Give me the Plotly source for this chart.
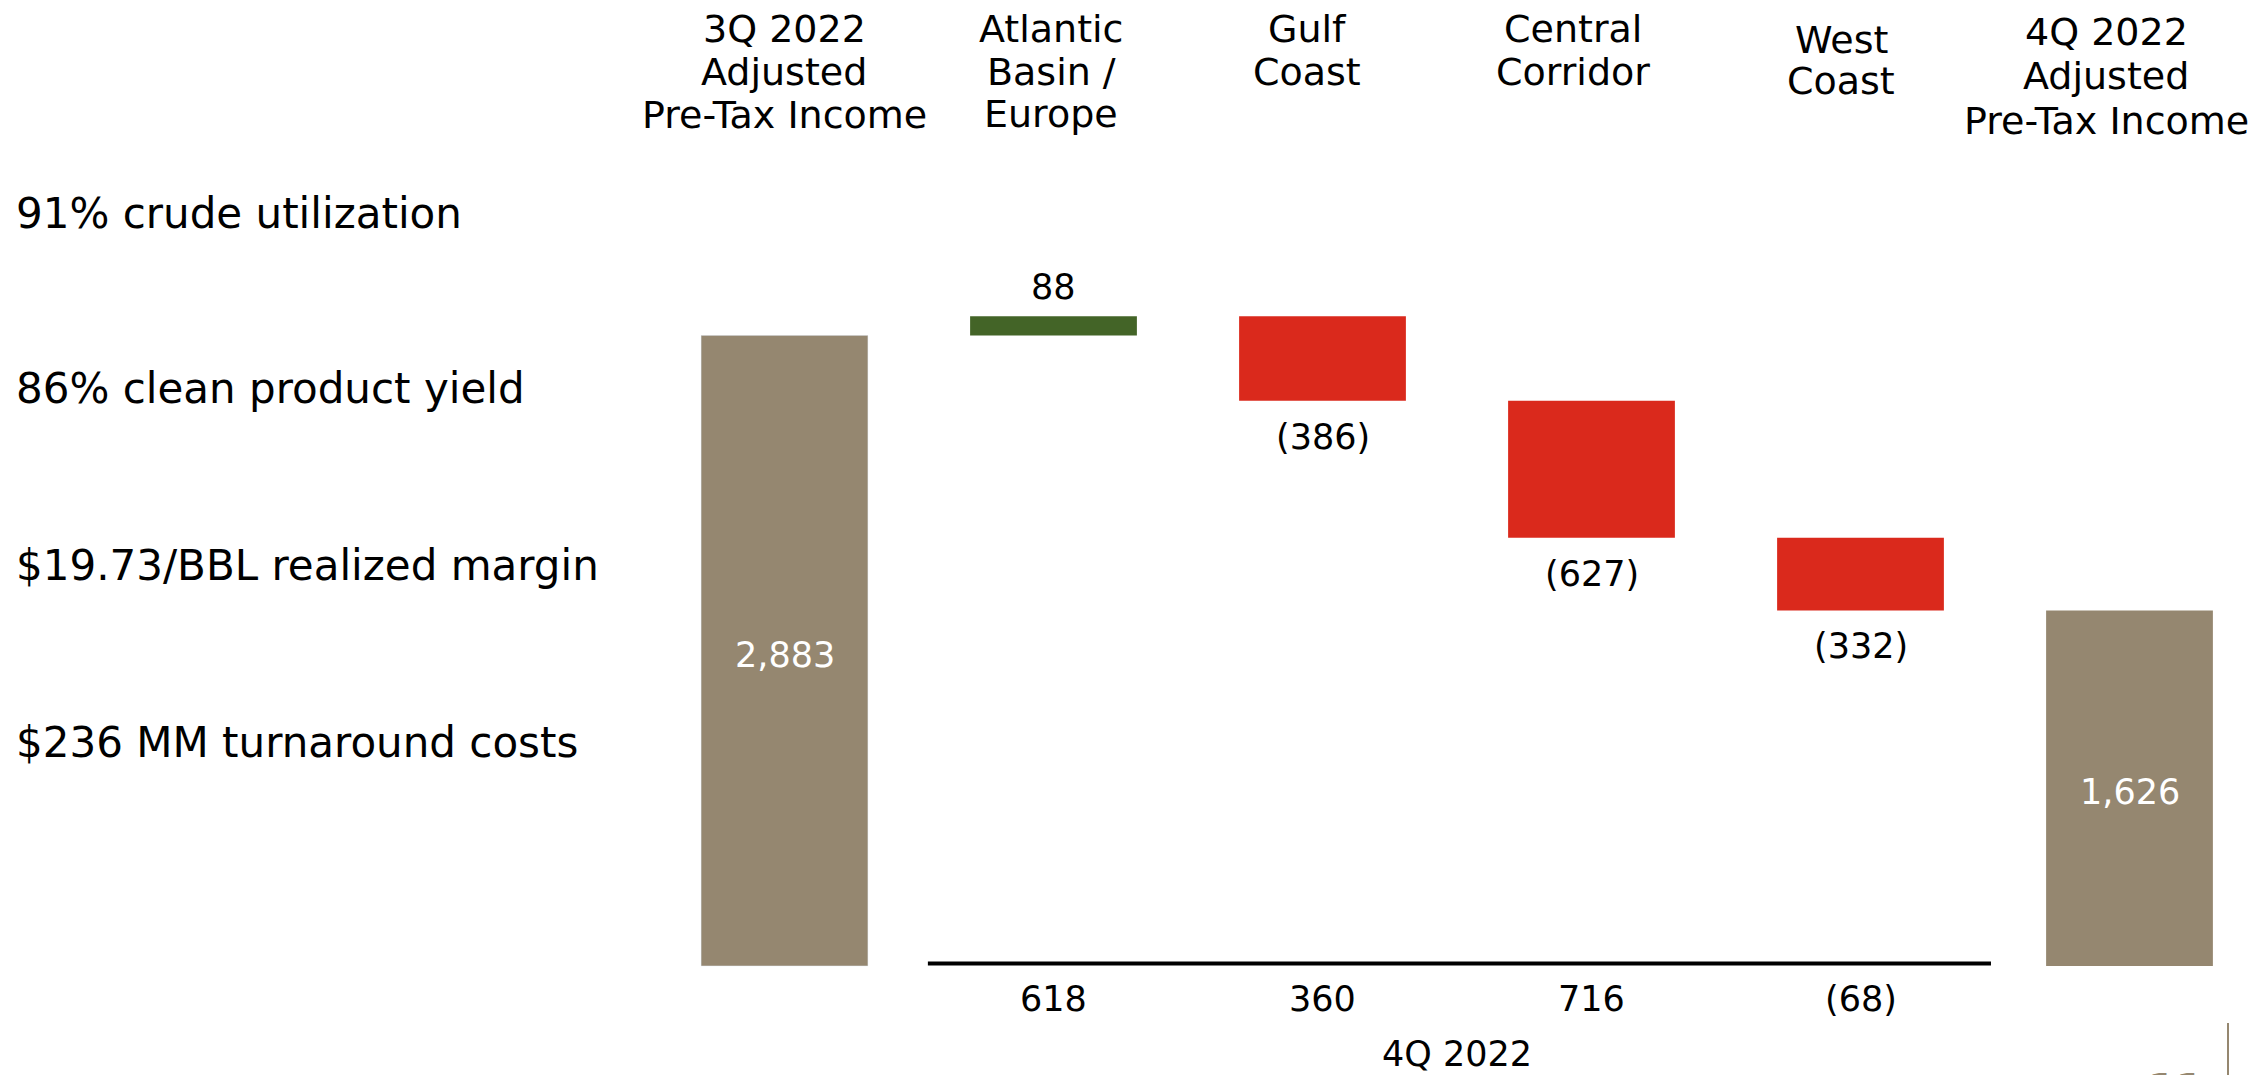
import plotly.graph_objects as go

# ---- data ----
categories = ["3Q 2022 Adjusted Pre-Tax Income", "Atlantic Basin / Europe", "Gulf Coast",
              "Central Corridor", "West Coast", "4Q 2022 Adjusted Pre-Tax Income"]
header_lines = [["3Q 2022", "Adjusted", "Pre-Tax Income"],
                ["Atlantic", "Basin /", "Europe"],
                ["Gulf", "Coast"],
                ["Central", "Corridor"],
                ["West", "Coast"],
                ["4Q 2022", "Adjusted", "Pre-Tax Income"]]
values = [2883, 88, -386, -627, -332, 1626]
measures = ["absolute", "relative", "relative", "relative", "relative", "total"]
value_labels = ["2,883", "88", "(386)", "(627)", "(332)", "1,626"]
q4_region_values = ["618", "360", "716", "(68)"]
q4_label = "4Q 2022"
notes = ["91% crude utilization", "86% clean product yield",
         "$19.73/BBL realized margin", "$236 MM turnaround costs"]
page_number = "11"

# ---- style ----
W, H = 2257, 1075
TAN = "#958770"
GREEN = "#436427"
RED = "#DA291C"
FONT = "DejaVu Sans"
px_per_unit = 0.2187
base_px = 966  # pixel row of y=0
VAL_SIZE = 35
HEAD_SIZE = 38
NOTE_SIZE = 42

fig = go.Figure(go.Waterfall(
    x=categories, y=values, measure=measures,
    width=0.62,
    increasing=dict(marker=dict(color=GREEN)),
    decreasing=dict(marker=dict(color=RED)),
    totals=dict(marker=dict(color=TAN)),
    connector=dict(visible=False),
    textinfo="none", hoverinfo="skip",
))
# opening absolute bar in tan
fig.add_trace(go.Bar(x=[categories[0]], y=[values[0]], width=0.62,
                     marker=dict(color=TAN), hoverinfo="skip"))

annotations = []
cum = 0
for i, (v, m, lab) in enumerate(zip(values, measures, value_labels)):
    if m == "absolute":
        cum = v
        annotations.append(dict(x=categories[i], y=v / 2, text=lab, showarrow=False,
                                font=dict(color="white", size=VAL_SIZE, family=FONT), yshift=-4))
    elif m == "total":
        annotations.append(dict(x=categories[i], y=cum / 2, text=lab, showarrow=False,
                                font=dict(color="white", size=VAL_SIZE, family=FONT), yshift=-4))
    else:
        cum += v
        if v >= 0:
            annotations.append(dict(x=categories[i], y=cum, text=lab, showarrow=False,
                                    font=dict(color="black", size=VAL_SIZE, family=FONT), yshift=29))
        else:
            annotations.append(dict(x=categories[i], y=cum, text=lab, showarrow=False,
                                    font=dict(color="black", size=VAL_SIZE, family=FONT), yshift=-36))

# 4Q region values under baseline
for i, lab in enumerate(q4_region_values):
    annotations.append(dict(x=categories[i + 1], y=0, text=lab, showarrow=False,
                            xanchor="center",
                            font=dict(color="black", size=VAL_SIZE, family=FONT), yshift=-33))
annotations.append(dict(x=2.5, y=0, text=q4_label, showarrow=False, xanchor="center",
                        font=dict(color="black", size=VAL_SIZE, family=FONT), yshift=-88))

# header labels (each line placed separately for tight leading)
header_x = [784, 1051, 1307, 1573, 1841, 2106]
header_y = [[29, 72, 115], [29, 72, 114], [29, 72], [29, 72], [40, 81], [32, 76, 121]]
for i, lines in enumerate(header_lines):
    for line, py in zip(lines, header_y[i]):
        annotations.append(dict(xref="paper", x=header_x[i] / W, xanchor="center",
                                yref="paper", y=1 - py / H, text=line,
                                showarrow=False, yanchor="middle",
                                font=dict(color="black", size=HEAD_SIZE, family=FONT)))

# left-hand notes
note_y = [214, 388, 565, 742]
for t, py in zip(notes, note_y):
    annotations.append(dict(xref="paper", x=14 / W, xanchor="left", yref="paper",
                            y=1 - py / H, yanchor="middle", text=t, showarrow=False,
                            font=dict(color="black", size=NOTE_SIZE, family=FONT)))

# page number
annotations.append(dict(xref="paper", x=2176 / W, xanchor="center", yref="paper",
                        y=1 - 1064 / H, yanchor="top", text="<b>" + page_number + "</b>",
                        showarrow=False, font=dict(color=TAN, size=40, family=FONT)))

shapes = [
    dict(type="line", xref="x", yref="y", x0=0.533, x1=4.485, y0=12, y1=12,
         line=dict(color="black", width=4)),
    dict(type="line", xref="paper", yref="paper", x0=2228 / W, x1=2228 / W,
         y0=0, y1=1 - 1023 / H, line=dict(color=TAN, width=2)),
]

x0 = -784.5 / 269.0
x1 = x0 + W / 269.0
y0 = -(H - base_px) / px_per_unit
y1 = y0 + H / px_per_unit

fig.update_layout(
    width=W, height=H,
    margin=dict(l=0, r=0, t=0, b=0),
    paper_bgcolor="white", plot_bgcolor="white",
    showlegend=False,
    xaxis=dict(type="category", range=[x0, x1], visible=False),
    yaxis=dict(range=[y0, y1], visible=False),
    annotations=annotations,
    shapes=shapes,
)

fig.write_html("out.html", config={"displayModeBar": False},
               post_script="document.body.style.margin='0';document.body.style.overflow='hidden';")
